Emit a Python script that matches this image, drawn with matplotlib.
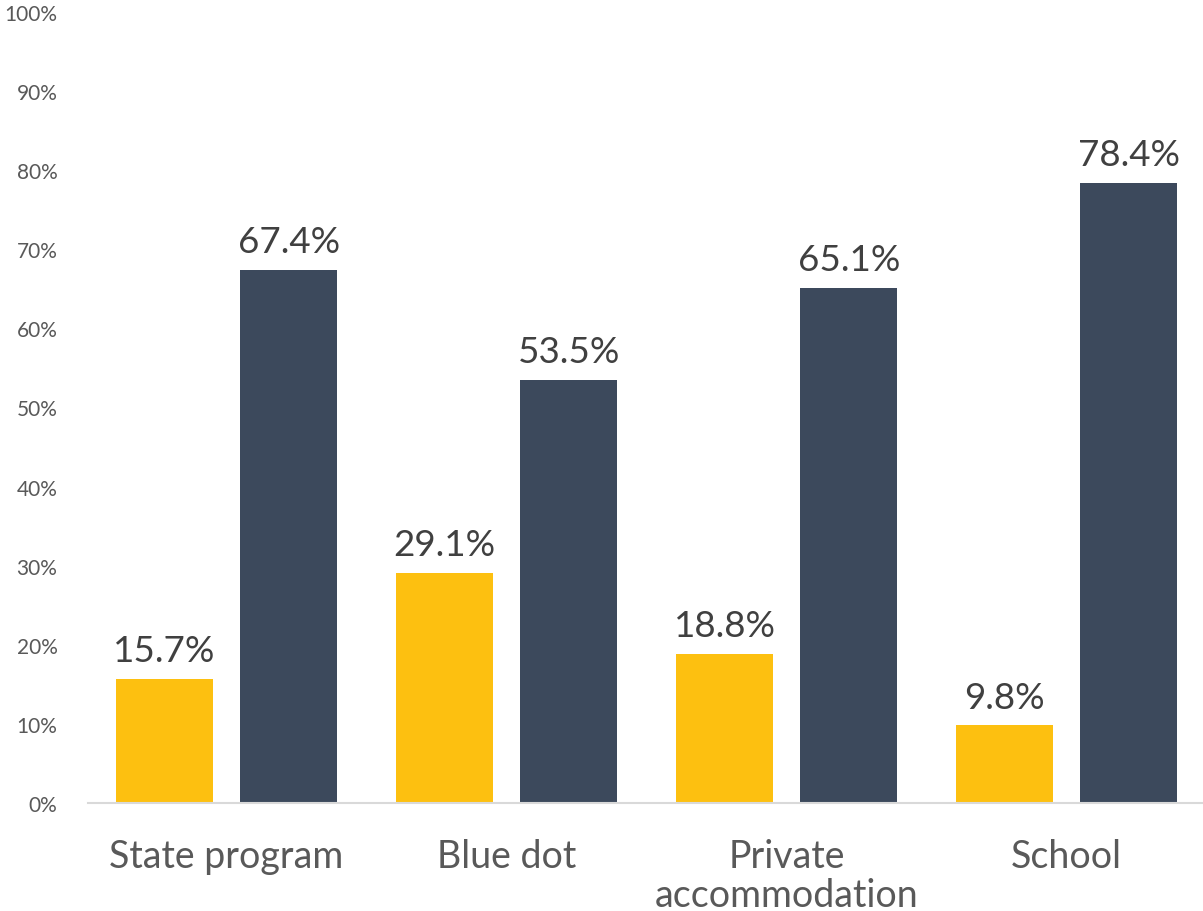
import matplotlib
matplotlib.use("Agg")
import matplotlib.pyplot as plt
import numpy as np

categories = ["State program", "Blue dot", "Private\naccommodation", "School"]
series_a = [15.7, 29.1, 18.8, 9.8]
series_b = [67.4, 53.5, 65.1, 78.4]
yticks = [0, 10, 20, 30, 40, 50, 60, 70, 80, 90, 100]

color_a = "#FDC010"
color_b = "#3C495C"

plt.rcParams['font.family'] = ['Lato', 'DejaVu Sans']

fig = plt.figure(figsize=(12.03, 9.12), dpi=100)
ax = fig.add_axes([88/1203, 108/912, (1203-88)/1203, (804-13)/912])

x = np.arange(len(categories))
w = 0.346
off = 0.222
ba = ax.bar(x - off, series_a, width=w, color=color_a)
bb = ax.bar(x + off, series_b, width=w, color=color_b)

for bars, vals in ((ba, series_a), (bb, series_b)):
    for r, v in zip(bars, vals):
        ax.text(r.get_x() + r.get_width()/2, v + 1.5, f"{v:.1f}%", ha="center", va="bottom",
                fontsize=26.5, color="#404040")

ax.set_xlim(-0.495, 3.487)
ax.set_ylim(0, 100)
ax.set_yticks(yticks)
ax.set_yticklabels([f"{t}%" for t in yticks], fontsize=15, color="#595959")
ax.set_xticks(x)
ax.set_xticklabels(categories, fontsize=27, color="#595959", linespacing=1.12)
ax.tick_params(axis="both", length=0)
ax.tick_params(axis="x", pad=25)
ax.tick_params(axis="y", pad=22)
for s in ["top", "right", "left"]:
    ax.spines[s].set_visible(False)
ax.spines["bottom"].set_color("#D9D9D9")
ax.spines["bottom"].set_linewidth(1.5)

fig.savefig("out.png", dpi=100)
